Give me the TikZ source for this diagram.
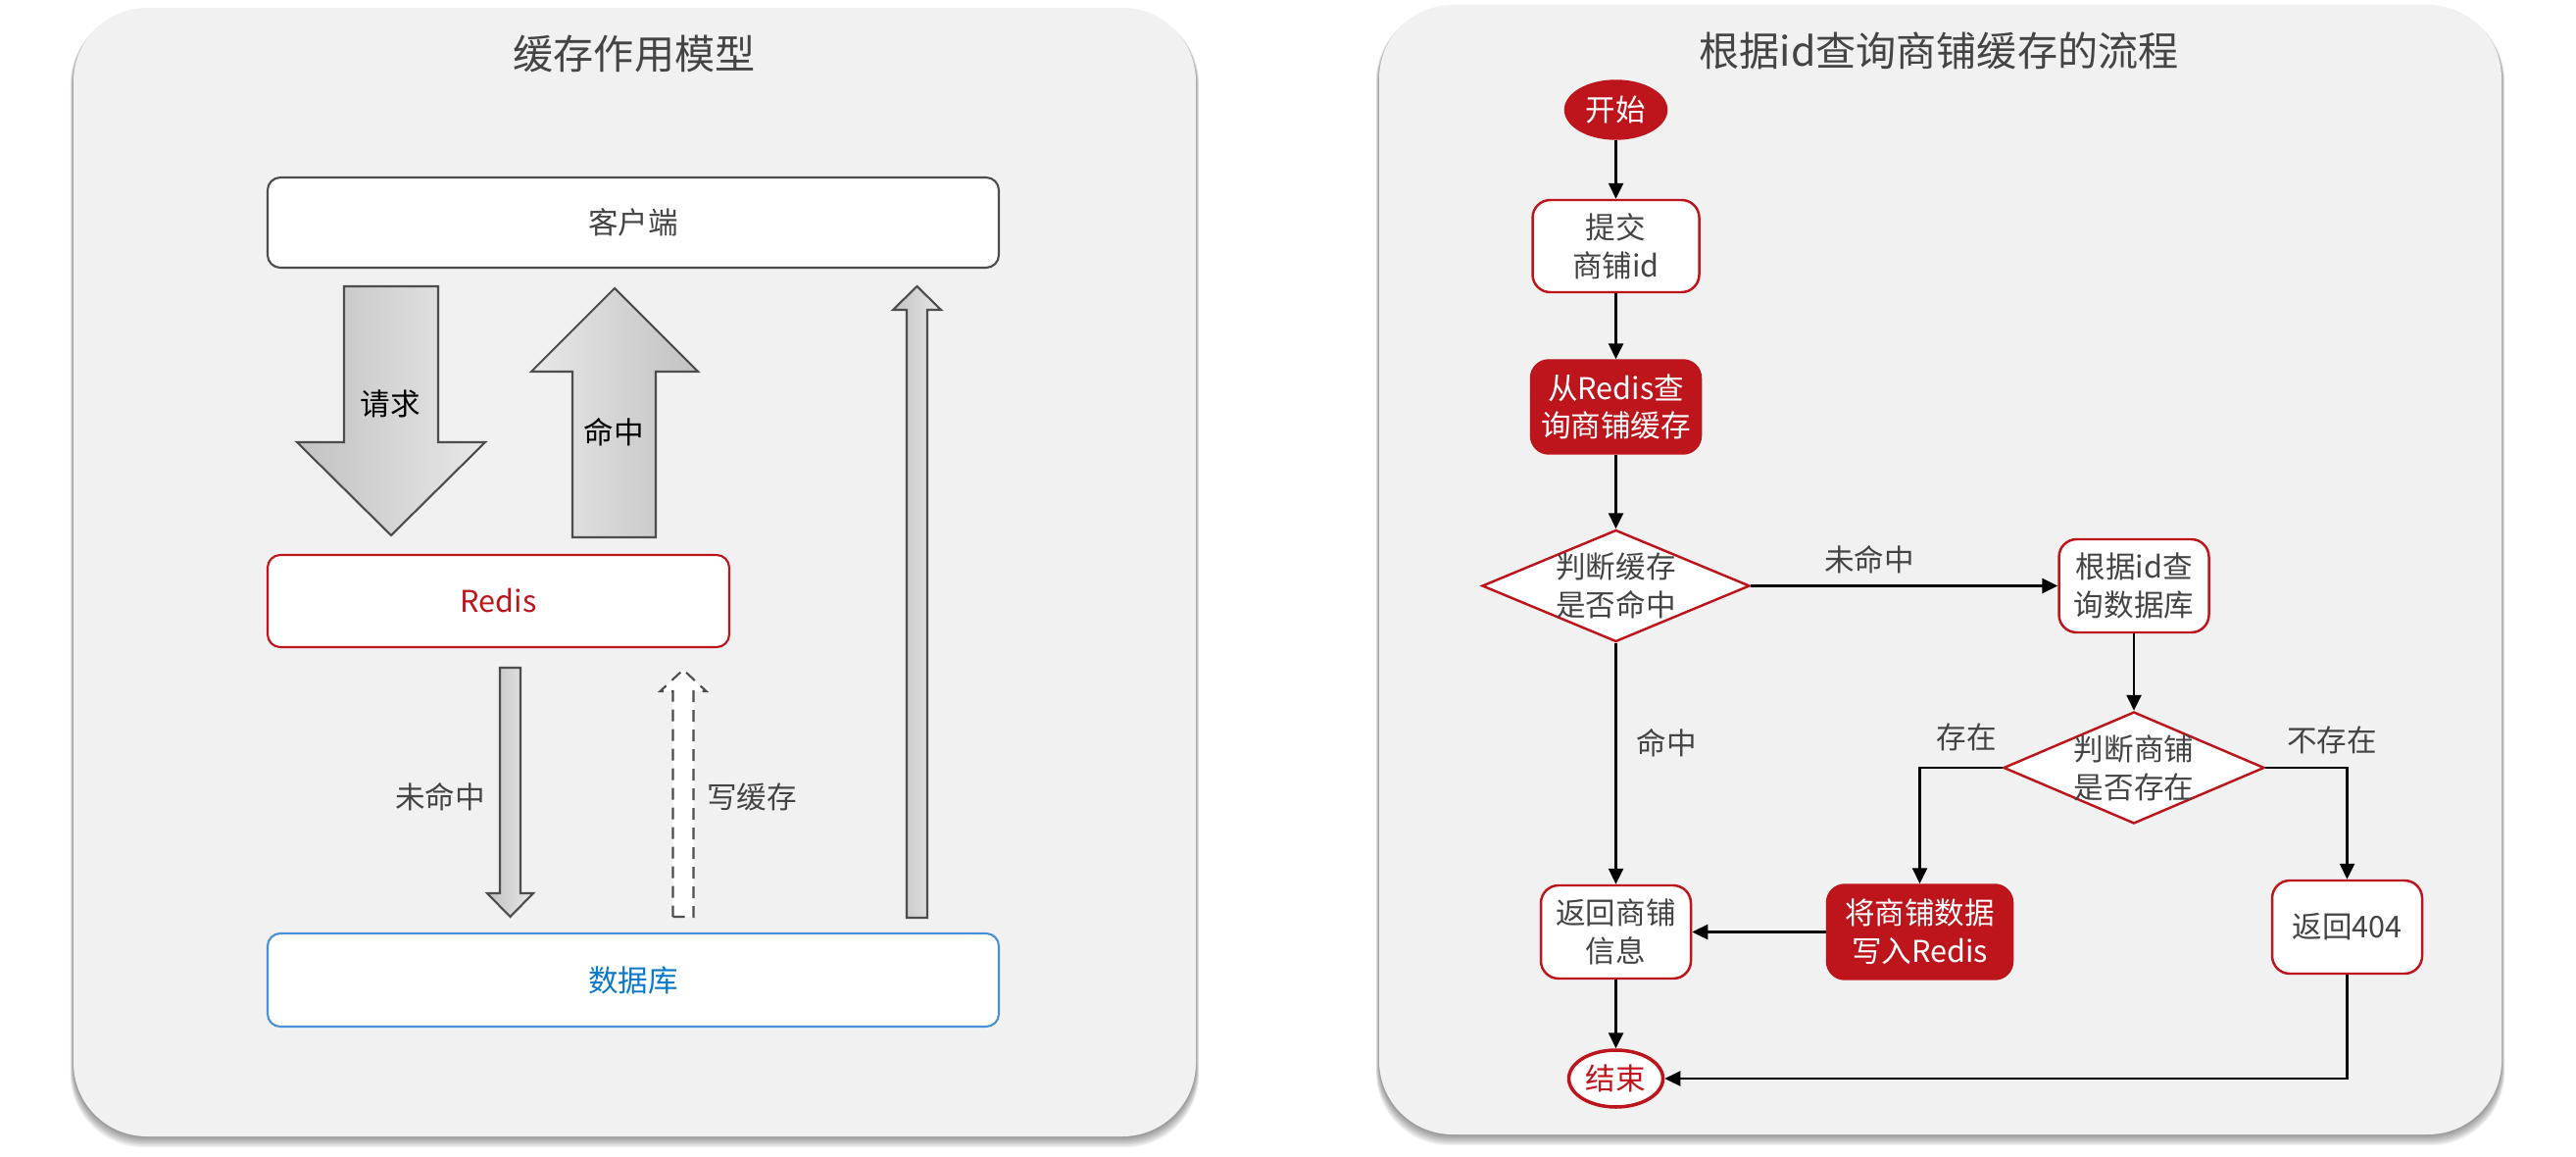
\documentclass[tikz,border=0pt]{standalone}
\usepackage{fontspec}
\setmainfont{Noto Sans CJK SC}
\usepackage{tikz}
\usetikzlibrary{arrows.meta,shapes.geometric}
\usepackage{xcolor}
\definecolor{panelbg}{HTML}{F1F1F1}
\definecolor{redisred}{HTML}{BE141C}
\definecolor{dbblue}{HTML}{4A90D9}
\definecolor{dbtext}{HTML}{0A78C8}
\definecolor{txtgray}{HTML}{444444}
\definecolor{edgegray}{HTML}{4D4D4D}
\definecolor{shadedark}{HTML}{C2C2C2}
\definecolor{shadelight}{HTML}{E8E8E8}

\begin{document}
\begin{tikzpicture}[x=0.1mm,y=-0.1mm,
  every node/.style={font=\fontsize{8.7}{11}\selectfont,text=txtgray,align=center},
  panel/.style={fill=panelbg,rounded corners=7.5mm},
  paneltitle/.style={font=\fontsize{11.7}{14}\selectfont},
  lbox/.style={draw=edgegray,fill=white,rounded corners=1.3mm,line width=0.6pt,inner sep=0pt},
  rbox/.style={draw=redisred,fill=white,rounded corners=1.8mm,line width=0.7pt,inner sep=0pt},
  rfill/.style={rbox,fill=redisred,text=white},
  dec/.style={diamond,draw=redisred,fill=white,line width=0.7pt,inner sep=0pt},
  term/.style={ellipse,draw=redisred,line width=0.7pt,inner sep=0pt},
  fat/.style={draw=edgegray,line width=0.6pt,line join=miter},
  arr/.style={-{Triangle[length=1.6mm,width=1.5mm]},line width=0.7pt,black}]
\useasboundingbox (0,0) rectangle (2628,1180);
\foreach \xa/\ya/\xb/\yb in {75/8/1220/1159,1407/5/2552/1157}{
  \foreach \s in {1,...,8}
    \fill[black,opacity=0.06,rounded corners=7.5mm] ({\xa-0.4*\s},{\ya+3}) rectangle ({\xb+0.4*\s},{\yb+1.4*\s});
  \fill[panel] (\xa,\ya) rectangle (\xb,\yb);
}

\node[paneltitle] (ltitle) at (647,55) {缓存作用模型};
\node[lbox,minimum width=74.6mm,minimum height=9.2mm] (client) at (646,227) {客户端};
\node[lbox,draw=redisred,text=redisred,minimum width=47.1mm,minimum height=9.4mm] (redis) at (508.5,613) {Redis};
\node[lbox,draw=dbblue,text=dbtext,minimum width=74.6mm,minimum height=9.5mm] (db) at (646,999.5) {数据库};
\draw[fat,left color=shadedark,right color=shadelight] (351,292) -- (447,292) -- (447,451) -- (495,451) -- (399,546) -- (303,451) -- (351,451) -- cycle;
\draw[fat,left color=shadelight,right color=shadedark] (584,548) -- (669,548) -- (669,379) -- (712,379) -- (627,294) -- (542,379) -- (584,379) -- cycle;
\draw[fat,left color=shadedark,right color=shadelight] (510,681) -- (531,681) -- (531,911) -- (544,911) -- (520.5,935) -- (497,911) -- (510,911) -- cycle;
\draw[fat,fill=white,dash pattern=on 1.2mm off 0.8mm] (686.5,935) -- (707.5,935) -- (707.5,705) -- (720.5,705) -- (697,683) -- (673.5,705) -- (686.5,705) -- cycle;
\draw[fat,left color=shadedark,right color=shadelight] (925,936) -- (946,936) -- (946,316) -- (960,316) -- (935.5,292) -- (911,316) -- (925,316) -- cycle;
\node[text=black] (lreq) at (398,412) {请求};
\node[text=black] (lhitup) at (626,441) {命中};
\node (lmissdown) at (449,813) {未命中};
\node (lwrite) at (767,813) {写缓存};

\node[paneltitle] (rtitle) at (1978,52) {根据id查询商铺缓存的流程};
\node[term,fill=redisred,text=white,minimum width=10.3mm,minimum height=5.9mm] (start) at (1648.5,112) {开始};
\node[rbox,minimum width=17mm,minimum height=9.4mm] (submit) at (1648.5,251) {提交\\商铺id};
\node[rfill,minimum width=17.3mm,minimum height=9.5mm] (query) at (1648.5,415) {从Redis查\\询商铺缓存};
\node[dec,minimum width=27.3mm,minimum height=11.4mm,label={center:判断缓存\\是否命中}] (hit) at (1648.5,597.5) {};
\node[rbox,minimum width=15.3mm,minimum height=9.5mm] (dbq) at (2177,597.5) {根据id查\\询数据库};
\node[dec,minimum width=26.6mm,minimum height=11.4mm,label={center:判断商铺\\是否存在}] (exist) at (2177,783) {};
\node[rfill,minimum width=18.9mm,minimum height=9.6mm] (write) at (1958.5,950.5) {将商铺数据\\写入Redis};
\node[rbox,minimum width=15.3mm,minimum height=9.5mm] (ret) at (1648.5,950.5) {返回商铺\\信息};
\node[rbox,minimum width=15.3mm,minimum height=9.5mm] (nf) at (2394.5,945.5) {返回404};
\node[term,fill=white,text=redisred,line width=1pt,minimum width=9.6mm,minimum height=5.8mm] (stop) at (1648.5,1100) {结束};
\draw[arr] (start) -- (submit);
\draw[arr] (submit) -- (query);
\draw[arr] (query) -- (hit);
\draw[arr] (hit) -- (dbq);
\draw[arr] (hit) -- (ret);
\draw[arr] (dbq) -- (exist);
\draw[arr] (exist.west) -| (write.north);
\draw[arr] (exist.east) -| (nf.north);
\draw[arr] (write) -- (ret);
\draw[arr] (ret) -- (stop);
\draw[arr] (nf.south) |- (stop.east);
\node (lmiss) at (1907,571) {未命中};
\node (lhit) at (1700,758) {命中};
\node (lyes) at (2006,752) {存在};
\node (lno) at (2379,755) {不存在};
\end{tikzpicture}
\end{document}
